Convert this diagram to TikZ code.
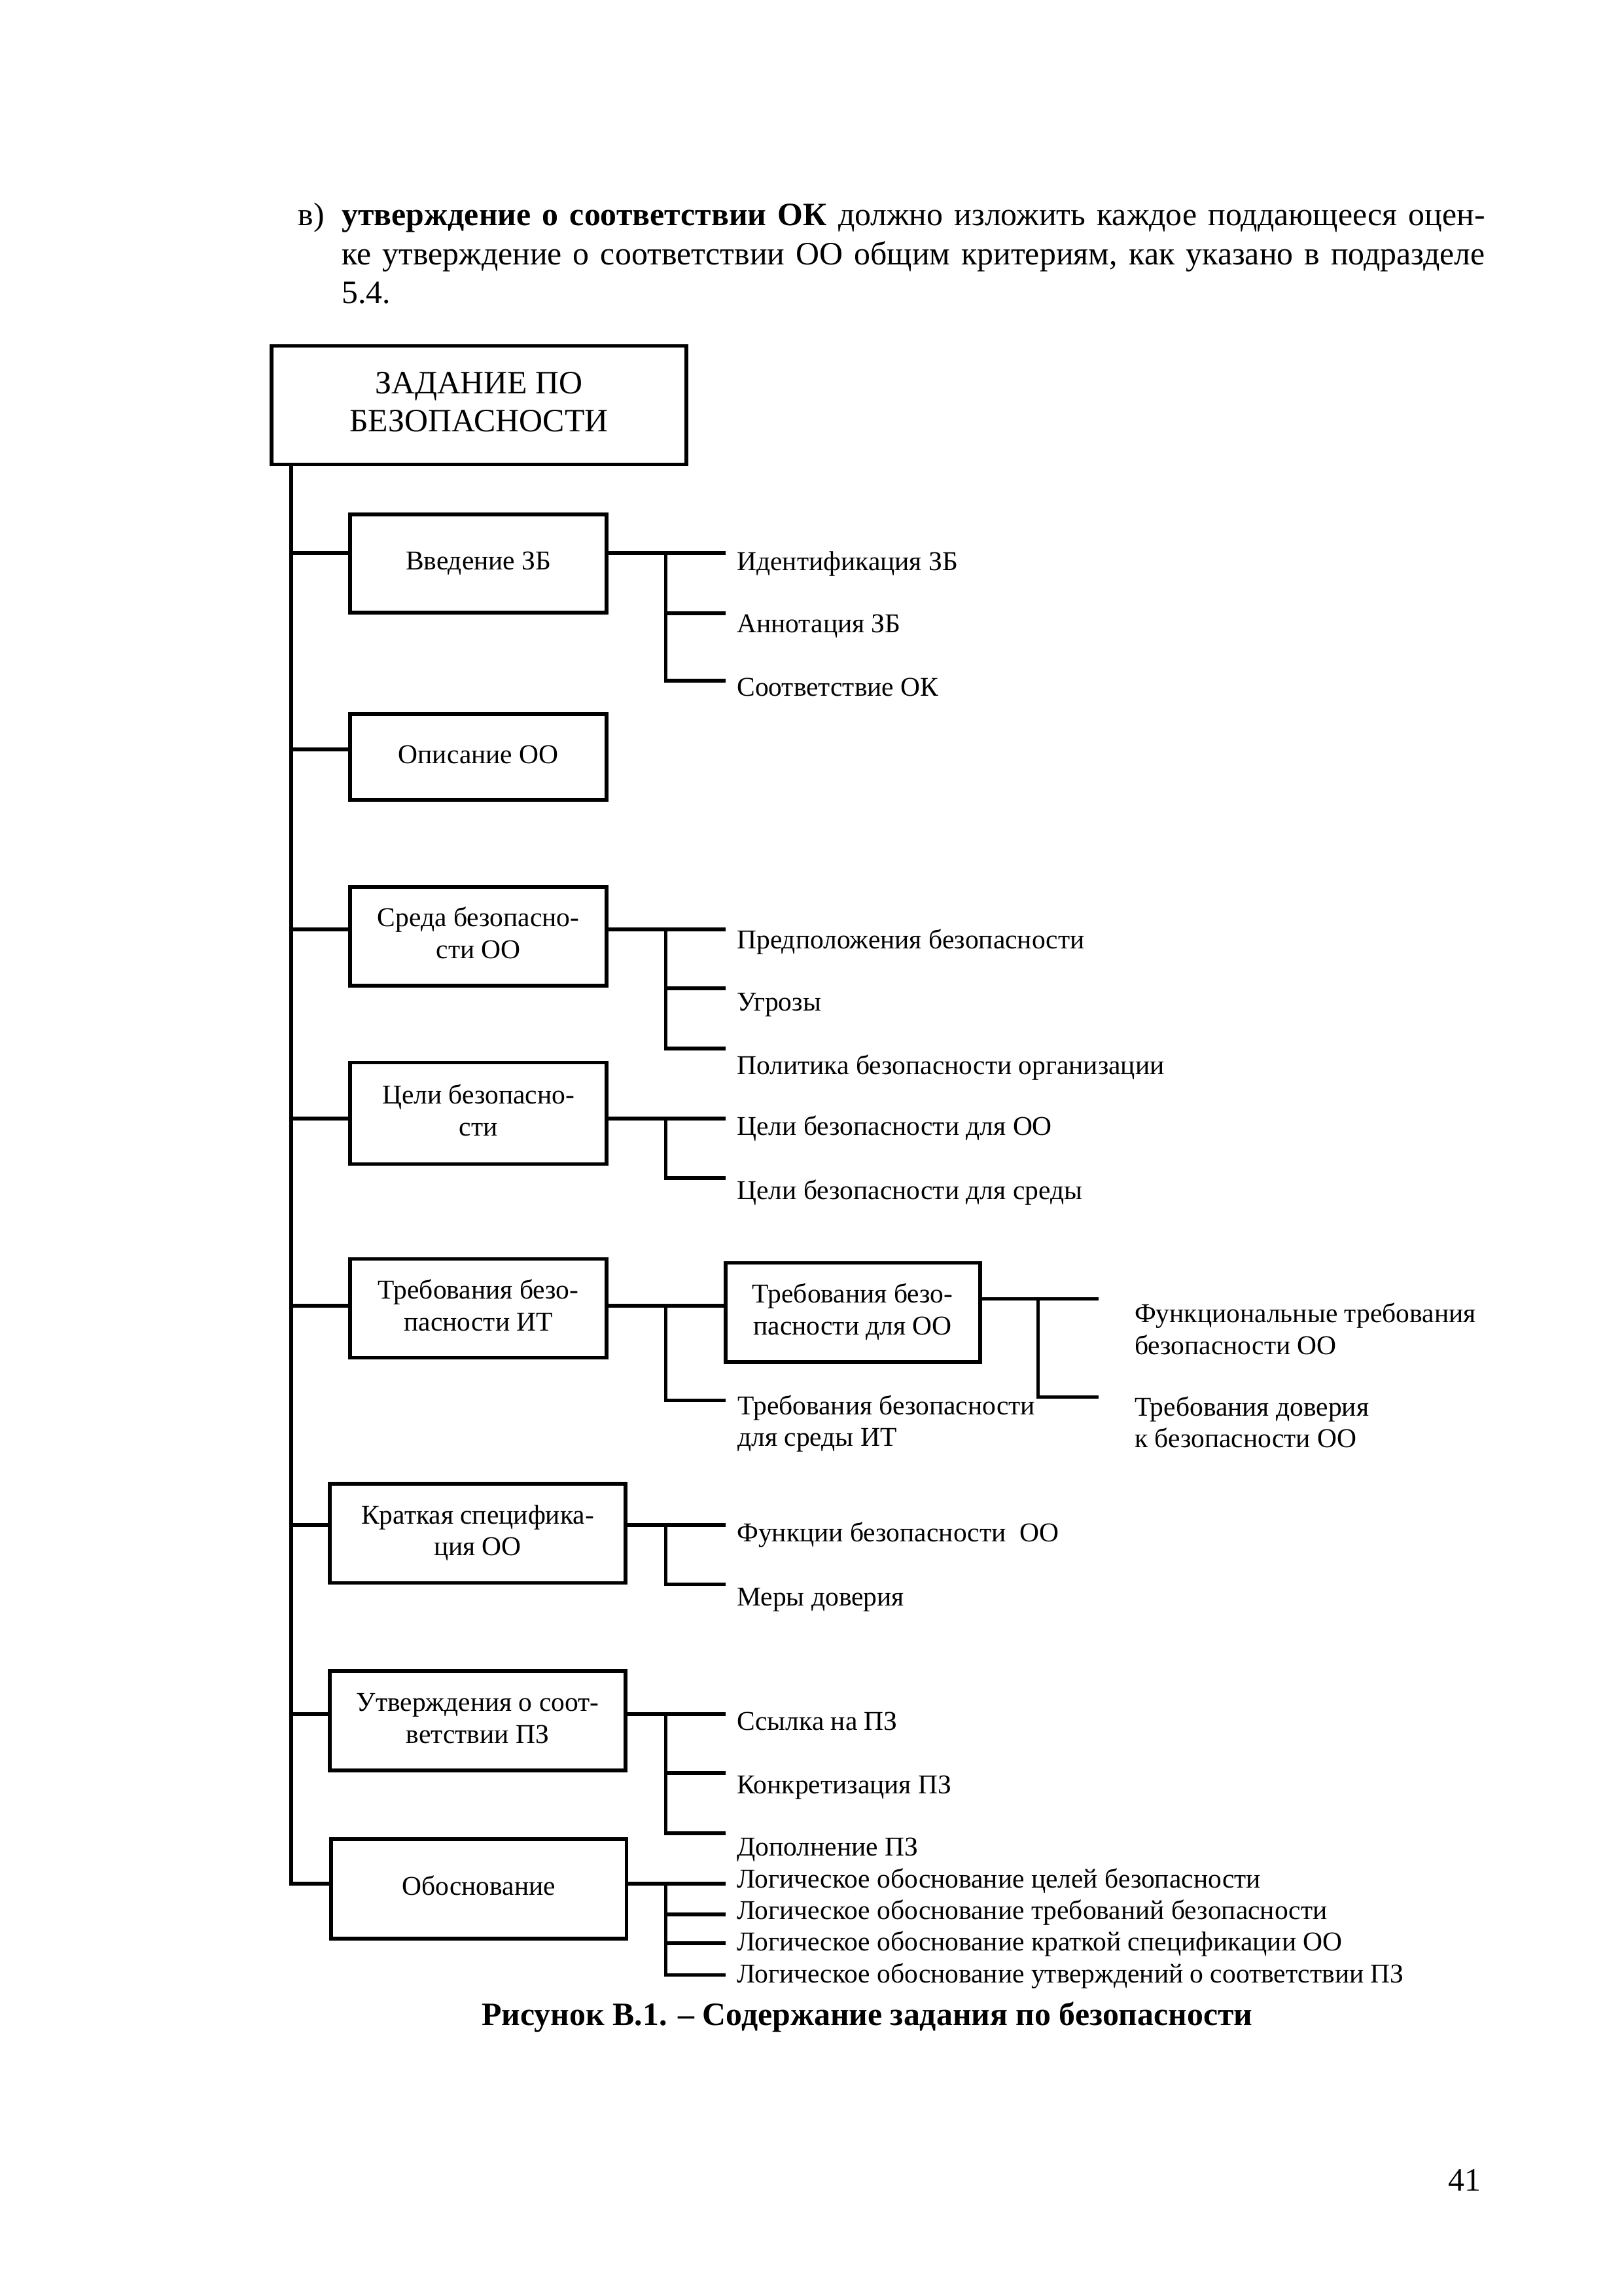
\documentclass[tikz,border=0pt]{standalone}
\usepackage{fontspec}
\setmainfont{Liberation Serif}
\newcommand\lblfont{\fontsize{10}{11.7}\selectfont}
\newcommand\bigfont{\fontsize{12}{13.8}\selectfont}
\newcommand\bodyfont{\fontsize{12}{14.3}\selectfont}
\newcommand\twol[2]{\begin{tabular}[t]{@{}l@{}}#1\\#2\end{tabular}}
\newcommand\bxt[1]{\begin{tabular}{@{}c@{}}#1\end{tabular}}
\newlength\pw
\setlength\pw{147.93mm}
\begin{document}
\begin{tikzpicture}[x=0.19039mm,y=-0.19039mm,
  box/.style={draw, line width=1.4pt, inner sep=0pt, font=\lblfont},
  bxsz/.style 2 args={minimum width=#1*0.19039mm, minimum height=#2*0.19039mm},
  ln/.style={line width=1.4pt, line cap=rect},
  lab/.style={anchor=base west, inner sep=0pt, font=\lblfont},
  txt/.style={inner sep=0pt, font=\bodyfont}]
\useasboundingbox (0,0) rectangle (1103.3,1560);
% ---- paragraph above the figure
\node[txt, anchor=base west] (vv) at (202.2,153.4) {в)};
\node[txt, anchor=base west] (para) at (232,153.4) {\bodyfont\begin{tabular}[t]{@{}l@{}}\makebox[\pw][s]{\textbf{утверждение о соответствии ОК} должно изложить каждое поддающееся оцен-}\\
\makebox[\pw][s]{ке утверждение о соответствии ОО общим критериям, как указано в подразделе}\\
5.4.\end{tabular}};
% ---- boxes
\node[box, font=\bigfont, bxsz={282}{80.5}] (main) at (325.5,275.25) {\bxt{ЗАДАНИЕ ПО\\БЕЗОПАСНОСТИ}};
\node[box, bxsz={174.5}{66.9}] (b1) at (325.15,382.95) {\bxt{Введение ЗБ}};
\node[box, bxsz={174.5}{58.4}] (b2) at (325.15,514.2) {\bxt{Описание ОО}};
\node[box, bxsz={174.5}{67.4}] (b3) at (325.15,636.1) {\bxt{Среда безопасно-\\сти ОО}};
\node[box, bxsz={174.5}{68.9}] (b4) at (325.15,756.45) {\bxt{Цели безопасно-\\сти}};
\node[box, bxsz={174.5}{67.1}] (b5) at (325.15,888.95) {\bxt{Требования безо-\\пасности ИТ}};
\node[box, bxsz={173}{67.5}] (b5b) at (579.5,891.75) {\bxt{Требования безо-\\пасности для ОО}};
\node[box, bxsz={201.3}{67.5}] (b6) at (324.65,1041.75) {\bxt{Краткая специфика-\\ция ОО}};
\node[box, bxsz={201.3}{67.6}] (b7) at (324.65,1169.2) {\bxt{Утверждения о соот-\\ветствии ПЗ}};
\node[box, bxsz={200.8}{67.4}] (b8) at (325.4,1283.3) {\bxt{Обоснование}};
% ---- reference coordinates
\coordinate (tx) at (197.8,0);
\coordinate (jx) at (452.5,0);
\coordinate (jy) at (705.5,0);
\coordinate (c1) at (0,375.7);
\coordinate (c2) at (0,509);
\coordinate (c3) at (0,631.5);
\coordinate (c4) at (0,760);
\coordinate (c5) at (0,887);
\coordinate (c5b) at (0,882.5);
\coordinate (c6) at (0,1036.2);
\coordinate (c7) at (0,1164.5);
\coordinate (c8) at (0,1280);
% branch ends
\coordinate (e11) at (491.7,375.7);
\coordinate (e12) at (491.7,416.6);
\coordinate (e13) at (491.7,462.4);
\coordinate (e31) at (491.7,631.5);
\coordinate (e32) at (491.7,671.4);
\coordinate (e33) at (491.7,712.5);
\coordinate (e41) at (491.7,760);
\coordinate (e42) at (491.7,800.3);
\coordinate (e52) at (492,951.4);
\coordinate (e5b1) at (745.5,882.5);
\coordinate (e5b2) at (745.5,949.2);
\coordinate (e61) at (491.7,1036.2);
\coordinate (e62) at (491.7,1076.4);
\coordinate (e71) at (491.7,1164.5);
\coordinate (e72) at (491.7,1204.7);
\coordinate (e73) at (491.7,1245.7);
\coordinate (e81) at (491.7,1280);
\coordinate (e82) at (491.7,1300.8);
\coordinate (e83) at (491.7,1320.3);
\coordinate (e84) at (491.7,1341.9);
% ---- labels
\node[lab] (l11) at (500.5,387.5) {Идентификация ЗБ};
\node[lab] (l12) at (500.5,430) {Аннотация ЗБ};
\node[lab] (l13) at (500.5,473) {Соответствие ОК};
\node[lab] (l31) at (500.5,644.5) {Предположения безопасности};
\node[lab] (l32) at (500.5,687) {Угрозы};
\node[lab] (l33) at (500.5,730) {Политика безопасности организации};
\node[lab] (l41) at (500.5,771.5) {Цели безопасности для ОО};
\node[lab] (l42) at (500.5,815) {Цели безопасности для среды};
\node[lab] (l52) at (501,961) {\twol{Требования безопасности}{для среды ИТ}};
\node[lab] (l5b1) at (770.8,898.6) {\twol{Функциональные требования}{безопасности ОО}};
\node[lab] (l5b2) at (770.8,962) {\twol{Требования доверия}{к безопасности ОО}};
\node[lab] (l61) at (500.5,1047.5) {Функции безопасности\ \ ОО};
\node[lab] (l62) at (500.5,1091) {Меры доверия};
\node[lab] (l71) at (500.5,1175.5) {Ссылка на ПЗ};
\node[lab] (l72) at (500.5,1218.5) {Конкретизация ПЗ};
\node[lab] (l73) at (500.5,1261) {Дополнение ПЗ};
\node[lab] (l81) at (500.5,1282.5) {Логическое обоснование целей безопасности};
\node[lab] (l82) at (500.5,1304) {Логическое обоснование требований безопасности};
\node[lab] (l83) at (500.5,1325.5) {Логическое обоснование краткой спецификации ОО};
\node[lab] (l84) at (500.5,1347) {Логическое обоснование утверждений о соответствии ПЗ};
% ---- trunk
\draw[ln] (main.south -| tx) -- (tx |- c8);
\foreach \b/\c in {b1/c1,b2/c2,b3/c3,b4/c4,b5/c5,b6/c6,b7/c7,b8/c8}
  \draw[ln] (tx |- \c) -- (\b.west |- \c);
% ---- group 1
\draw[ln] (b1.east |- c1) -- (e11);
\draw[ln] (jx |- e11) -- (jx |- e13);
\draw[ln] (jx |- e12) -- (e12);
\draw[ln] (jx |- e13) -- (e13);
% ---- group 3
\draw[ln] (b3.east |- c3) -- (e31);
\draw[ln] (jx |- e31) -- (jx |- e33);
\draw[ln] (jx |- e32) -- (e32);
\draw[ln] (jx |- e33) -- (e33);
% ---- group 4
\draw[ln] (b4.east |- c4) -- (e41);
\draw[ln] (jx |- e41) -- (jx |- e42);
\draw[ln] (jx |- e42) -- (e42);
% ---- group 5
\draw[ln] (b5.east |- c5) -- (b5b.west |- c5);
\draw[ln] (jx |- c5) -- (jx |- e52);
\draw[ln] (jx |- e52) -- (e52);
\draw[ln] (b5b.east |- c5b) -- (e5b1);
\draw[ln] (jy |- e5b1) -- (jy |- e5b2);
\draw[ln] (jy |- e5b2) -- (e5b2);
% ---- group 6
\draw[ln] (b6.east |- c6) -- (e61);
\draw[ln] (jx |- e61) -- (jx |- e62);
\draw[ln] (jx |- e62) -- (e62);
% ---- group 7
\draw[ln] (b7.east |- c7) -- (e71);
\draw[ln] (jx |- e71) -- (jx |- e73);
\draw[ln] (jx |- e72) -- (e72);
\draw[ln] (jx |- e73) -- (e73);
% ---- group 8
\draw[ln] (b8.east |- c8) -- (e81);
\draw[ln] (jx |- e81) -- (jx |- e84);
\draw[ln] (jx |- e82) -- (e82);
\draw[ln] (jx |- e83) -- (e83);
\draw[ln] (jx |- e84) -- (e84);
% ---- caption and page number
\node[txt, anchor=base, font=\bodyfont\bfseries] (cap) at (589.4,1376) {Рисунок В.1. – Содержание задания по безопасности};
\node[txt, anchor=base east] (pn) at (1007,1488.4) {41};
\end{tikzpicture}
\end{document}
